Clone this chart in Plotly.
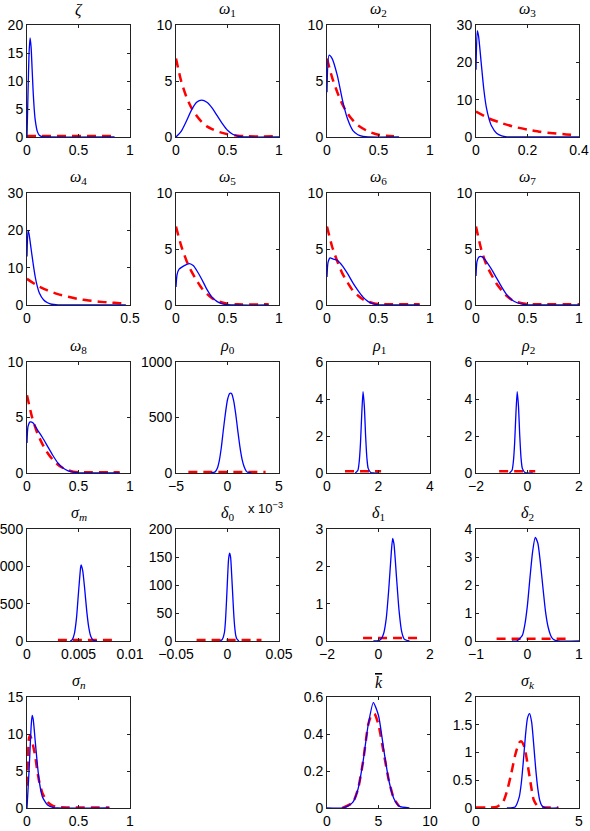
import plotly.graph_objects as go

# ---------------- data ----------------
# zeta
zeta_post_x = [0, 0.01, 0.02, 0.03, 0.04, 0.05, 0.06, 0.07, 0.08, 0.1, 0.12, 0.15, 0.2, 0.85]
zeta_post_y = [0, 8, 15, 17.7, 16, 12, 8, 5, 3, 1, 0.3, 0.05, 0, 0]
zeta_prior_x = [0, 0.87]
zeta_prior_y = [0.18, 0.18]
# omega1
w1_post_x = [0, 0.05, 0.1, 0.15, 0.2, 0.25, 0.3, 0.35, 0.4, 0.45, 0.5, 0.55, 0.6, 0.65, 0.7, 1]
w1_post_y = [0, 0.5, 1.4, 2.4, 3.1, 3.3, 3.1, 2.6, 1.9, 1.2, 0.6, 0.25, 0.08, 0.02, 0, 0]
w1_prior_x = [0, 0.05, 0.1, 0.15, 0.2, 0.25, 0.3, 0.35, 0.4, 0.5, 0.6, 0.7, 1]
w1_prior_y = [7, 5.0, 3.6, 2.6, 1.9, 1.35, 0.95, 0.7, 0.5, 0.25, 0.12, 0.06, 0.06]
# omega2
w2_post_x = [0, 0.02, 0.05, 0.1, 0.15, 0.2, 0.25, 0.3, 0.35, 0.4, 0.7]
w2_post_y = [4, 7.3, 7.0, 5.5, 3.3, 1.6, 0.6, 0.2, 0.05, 0, 0]
w2_prior_x = [0, 0.05, 0.1, 0.15, 0.2, 0.25, 0.3, 0.4, 0.5, 0.65]
w2_prior_y = [7, 5.3, 4.0, 2.9, 2.1, 1.5, 1.05, 0.5, 0.2, 0.06]
# omega3
w3_post_x = [0, 0.005, 0.01, 0.02, 0.03, 0.04, 0.05, 0.06, 0.08, 0.1, 0.12, 0.15, 0.4]
w3_post_y = [18, 28.5, 27, 20, 13, 8, 5, 3, 1, 0.3, 0.05, 0, 0]
w3_prior_x = [0, 0.05, 0.1, 0.15, 0.2, 0.25, 0.3, 0.35, 0.38]
w3_prior_y = [6.8, 5.0, 3.7, 2.7, 2.0, 1.4, 1.0, 0.7, 0.55]
# omega4
w4_post_x = [0, 0.005, 0.01, 0.02, 0.03, 0.04, 0.05, 0.06, 0.08, 0.1, 0.12, 0.15, 0.2, 0.48]
w4_post_y = [13, 20, 19, 15, 11, 7.5, 5, 3.2, 1.4, 0.6, 0.2, 0.05, 0, 0]
w4_prior_x = [0, 0.05, 0.1, 0.15, 0.2, 0.25, 0.3, 0.35, 0.4, 0.45, 0.48]
w4_prior_y = [7, 5.2, 3.9, 2.9, 2.2, 1.6, 1.2, 0.9, 0.65, 0.5, 0.4]
# omega5
w5_post_x = [0, 0.01, 0.03, 0.06, 0.1, 0.13, 0.17, 0.2, 0.25, 0.3, 0.35, 0.4, 0.45, 0.5, 0.6, 0.9]
w5_post_y = [1.6, 2.7, 3.2, 3.4, 3.6, 3.7, 3.5, 3.1, 2.3, 1.4, 0.7, 0.3, 0.1, 0.03, 0, 0]
w5_prior_x = [0, 0.05, 0.1, 0.15, 0.2, 0.25, 0.3, 0.35, 0.4, 0.5, 0.6, 0.9]
w5_prior_y = [7, 5.3, 4.0, 3.0, 2.2, 1.5, 1.0, 0.6, 0.35, 0.12, 0.06, 0.06]
# omega6
w6_post_x = [0, 0.01, 0.03, 0.06, 0.1, 0.15, 0.2, 0.25, 0.3, 0.35, 0.4, 0.45, 0.5, 0.6, 0.9]
w6_post_y = [2.5, 3.8, 4.2, 4.1, 4.0, 3.5, 2.8, 2.0, 1.3, 0.7, 0.3, 0.1, 0.02, 0, 0]
w6_prior_x = [0, 0.05, 0.1, 0.15, 0.2, 0.25, 0.3, 0.35, 0.4, 0.45, 0.5, 0.6, 0.9]
w6_prior_y = [7, 5.2, 3.9, 2.8, 2.0, 1.3, 0.85, 0.5, 0.3, 0.15, 0.08, 0.06, 0.06]
# omega7
w7_post_x = [0, 0.01, 0.03, 0.06, 0.1, 0.15, 0.2, 0.25, 0.3, 0.35, 0.4, 0.45, 0.5, 0.6, 1]
w7_post_y = [2.6, 3.9, 4.3, 4.3, 3.9, 3.2, 2.4, 1.6, 0.9, 0.45, 0.2, 0.07, 0.02, 0, 0]
w7_prior_x = [0, 0.05, 0.1, 0.15, 0.2, 0.25, 0.3, 0.35, 0.4, 0.5, 0.6, 1]
w7_prior_y = [7, 5.0, 3.6, 2.7, 1.9, 1.3, 0.8, 0.45, 0.25, 0.08, 0.06, 0.06]
# omega8
w8_post_x = [0, 0.01, 0.03, 0.06, 0.1, 0.15, 0.2, 0.25, 0.3, 0.35, 0.4, 0.45, 0.5, 0.6, 0.9]
w8_post_y = [2.7, 4.2, 4.6, 4.5, 3.9, 3.2, 2.4, 1.6, 0.9, 0.45, 0.2, 0.07, 0.02, 0, 0]
w8_prior_x = [0, 0.05, 0.1, 0.15, 0.2, 0.25, 0.3, 0.35, 0.4, 0.45, 0.5, 0.6, 0.9]
w8_prior_y = [7, 5.0, 3.6, 2.6, 1.8, 1.2, 0.75, 0.45, 0.25, 0.12, 0.07, 0.06, 0.06]
# rho0 (x in units of 1e-3)
r0_post_x = [-1.6, -1.2, -1.0, -0.8, -0.6, -0.4, -0.2, 0, 0.2, 0.3, 0.4, 0.6, 0.8, 1.0, 1.2, 1.4, 1.6, 1.8, 2.0, 2.3]
r0_post_y = [0, 10, 40, 110, 230, 390, 540, 660, 715, 720, 715, 650, 530, 380, 240, 130, 60, 20, 5, 0]
r0_prior_x = [-3.8, 3.7]
r0_prior_y = [8, 8]
# rho1
r1_post_x = [1.1, 1.2, 1.25, 1.3, 1.35, 1.4, 1.45, 1.5, 1.55, 1.6, 1.7, 1.8, 2.0]
r1_post_y = [0, 0.15, 0.6, 1.6, 3.2, 4.4, 3.6, 2.0, 0.8, 0.25, 0.03, 0, 0]
r1_prior_x = [0.7, 2.1]
r1_prior_y = [0.09, 0.09]
# rho2
r2_post_x = [-0.7, -0.6, -0.55, -0.5, -0.45, -0.4, -0.35, -0.3, -0.25, -0.2, -0.1, 0, 0.2]
r2_post_y = [0, 0.15, 0.6, 1.6, 3.2, 4.4, 3.6, 2.0, 0.8, 0.25, 0.03, 0, 0]
r2_prior_x = [-1.1, 0.3]
r2_prior_y = [0.09, 0.09]
# sigma_m
sm_post_x = [0.0042, 0.0044, 0.0046, 0.0048, 0.005, 0.0052, 0.00525, 0.0054, 0.0056, 0.0058, 0.006, 0.0062, 0.0064, 0.0066, 0.0068]
sm_post_y = [0, 20, 100, 300, 650, 980, 1020, 950, 700, 400, 180, 60, 15, 2, 0]
sm_prior_x = [0.003, 0.0088]
sm_prior_y = [12, 12]
# delta0
d0_post_x = [-0.007, -0.005, -0.003, -0.002, -0.001, 0, 0.001, 0.002, 0.003, 0.004, 0.005, 0.006, 0.007, 0.008, 0.009, 0.011]
d0_post_y = [0, 3, 15, 35, 70, 110, 145, 157, 150, 120, 85, 50, 25, 10, 4, 0]
d0_prior_x = [-0.03, 0.033]
d0_prior_y = [2, 2]
# delta1
d1_post_x = [-0.2, 0, 0.1, 0.2, 0.3, 0.4, 0.5, 0.55, 0.6, 0.7, 0.8, 0.9, 1.0, 1.2]
d1_post_y = [0, 0.01, 0.05, 0.2, 0.6, 1.4, 2.4, 2.75, 2.6, 1.7, 0.8, 0.25, 0.05, 0]
d1_prior_x = [-0.6, 1.6]
d1_prior_y = [0.08, 0.08]
# delta2
d2_post_x = [-0.3, -0.2, -0.1, -0.05, 0, 0.05, 0.1, 0.15, 0.2, 0.25, 0.3, 0.35, 0.4, 0.45, 0.5, 0.6, 1]
d2_post_y = [0, 0.01, 0.2, 0.6, 1.3, 2.3, 3.2, 3.7, 3.5, 2.8, 1.9, 1.05, 0.5, 0.2, 0.06, 0, 0]
d2_prior_x = [-0.6, 0.8]
d2_prior_y = [0.08, 0.08]
# sigma_n
sn_post_x = [0, 0.02, 0.04, 0.05, 0.06, 0.08, 0.1, 0.12, 0.15, 0.2, 0.25, 0.3, 0.8]
sn_post_y = [0, 5, 11, 12.5, 12, 9, 6, 3.5, 1.5, 0.4, 0.1, 0, 0]
sn_prior_x = [0, 0.01, 0.02, 0.03, 0.05, 0.08, 0.1, 0.12, 0.15, 0.2, 0.25, 0.3, 0.4, 0.8]
sn_prior_y = [3, 7, 9.5, 9.8, 9, 7, 5, 3.5, 2, 0.8, 0.3, 0.12, 0.08, 0.08]
# k bar
kb_post_x = [0, 1.5, 2, 2.5, 3, 3.5, 4, 4.5, 5, 5.5, 6, 6.5, 7, 8]
kb_post_y = [0, 0, 0.01, 0.03, 0.1, 0.25, 0.45, 0.57, 0.5, 0.32, 0.15, 0.05, 0.01, 0]
kb_prior_x = [1.5, 2.5, 3, 3.5, 4, 4.3, 4.6, 5, 5.5, 6, 6.5, 7]
kb_prior_y = [0, 0.03, 0.1, 0.25, 0.45, 0.5, 0.51, 0.45, 0.3, 0.15, 0.05, 0.01]
# sigma_k
sk_post_x = [1.5, 1.9, 2.1, 2.2, 2.3, 2.4, 2.5, 2.6, 2.7, 2.8, 2.9, 3.0, 3.1, 3.2, 3.4, 4]
sk_post_y = [0, 0.02, 0.2, 0.45, 0.85, 1.3, 1.62, 1.7, 1.55, 1.15, 0.7, 0.35, 0.13, 0.04, 0, 0]
sk_prior_x = [0, 0.5, 1, 1.3, 1.5, 1.7, 1.9, 2.1, 2.2, 2.35, 2.5, 2.65, 2.8, 3.0, 3.3, 4]
sk_prior_y = [0.01, 0.01, 0.02, 0.1, 0.3, 0.6, 0.95, 1.18, 1.2, 1.1, 0.8, 0.45, 0.15, 0.03, 0.01, 0.01]

# panel titles and axis ticks
titles = ["<i>ζ</i>", "<i>ω</i><sub>1</sub>", "<i>ω</i><sub>2</sub>", "<i>ω</i><sub>3</sub>",
          "<i>ω</i><sub>4</sub>", "<i>ω</i><sub>5</sub>", "<i>ω</i><sub>6</sub>", "<i>ω</i><sub>7</sub>",
          "<i>ω</i><sub>8</sub>", "<i>ρ</i><sub>0</sub>", "<i>ρ</i><sub>1</sub>", "<i>ρ</i><sub>2</sub>",
          "<i>σ</i><sub><i>m</i></sub>", "<i>δ</i><sub>0</sub>", "<i>δ</i><sub>1</sub>", "<i>δ</i><sub>2</sub>",
          "<i>σ</i><sub><i>n</i></sub>",
          "<span style='text-decoration:overline'><i>k</i></span>",
          "<i>σ</i><sub><i>k</i></sub>"]
xticks = [[0, 0.5, 1], [0, 0.5, 1], [0, 0.5, 1], [0, 0.2, 0.4],
          [0, 0.5], [0, 0.5, 1], [0, 0.5, 1], [0, 0.5, 1],
          [0, 0.5, 1], [-5, 0, 5], [0, 2, 4], [-2, 0, 2],
          [0, 0.005, 0.01], [-0.05, 0, 0.05], [-2, 0, 2], [-1, 0, 1],
          [0, 0.5, 1], [0, 5, 10], [0, 5]]
xticktext = [["0", "0.5", "1"], ["0", "0.5", "1"], ["0", "0.5", "1"], ["0", "0.2", "0.4"],
             ["0", "0.5"], ["0", "0.5", "1"], ["0", "0.5", "1"], ["0", "0.5", "1"],
             ["0", "0.5", "1"], ["−5", "0", "5"], ["0", "2", "4"], ["−2", "0", "2"],
             ["0", "0.005", "0.01"], ["−0.05", "0", "0.05"], ["−2", "0", "2"], ["−1", "0", "1"],
             ["0", "0.5", "1"], ["0", "5", "10"], ["0", "5"]]
yticks = [[0, 5, 10, 15, 20], [0, 5, 10], [0, 5, 10], [0, 10, 20, 30],
          [0, 10, 20, 30], [0, 5, 10], [0, 5, 10], [0, 5, 10],
          [0, 5, 10], [0, 500, 1000], [0, 2, 4, 6], [0, 2, 4, 6],
          [0, 500, 1000, 1500], [0, 50, 100, 150, 200], [0, 1, 2, 3], [0, 1, 2, 3, 4],
          [0, 5, 10, 15], [0, 0.2, 0.4, 0.6], [0, 0.5, 1, 1.5, 2]]

panels = [
    (zeta_post_x, zeta_post_y, zeta_prior_x, zeta_prior_y),
    (w1_post_x, w1_post_y, w1_prior_x, w1_prior_y),
    (w2_post_x, w2_post_y, w2_prior_x, w2_prior_y),
    (w3_post_x, w3_post_y, w3_prior_x, w3_prior_y),
    (w4_post_x, w4_post_y, w4_prior_x, w4_prior_y),
    (w5_post_x, w5_post_y, w5_prior_x, w5_prior_y),
    (w6_post_x, w6_post_y, w6_prior_x, w6_prior_y),
    (w7_post_x, w7_post_y, w7_prior_x, w7_prior_y),
    (w8_post_x, w8_post_y, w8_prior_x, w8_prior_y),
    (r0_post_x, r0_post_y, r0_prior_x, r0_prior_y),
    (r1_post_x, r1_post_y, r1_prior_x, r1_prior_y),
    (r2_post_x, r2_post_y, r2_prior_x, r2_prior_y),
    (sm_post_x, sm_post_y, sm_prior_x, sm_prior_y),
    (d0_post_x, d0_post_y, d0_prior_x, d0_prior_y),
    (d1_post_x, d1_post_y, d1_prior_x, d1_prior_y),
    (d2_post_x, d2_post_y, d2_prior_x, d2_prior_y),
    (sn_post_x, sn_post_y, sn_prior_x, sn_prior_y),
    (kb_post_x, kb_post_y, kb_prior_x, kb_prior_y),
    (sk_post_x, sk_post_y, sk_prior_x, sk_prior_y),
]

# ---------------- layout geometry ----------------
W, H = 590, 831
col_px = [(27, 130), (176, 279), (327, 430), (476, 579)]
row_px = [(25, 137), (193, 305), (362, 473), (529, 641), (697, 808)]
slots = [(r, c) for r in range(4) for c in range(4)] + [(4, 0), (4, 2), (4, 3)]

fig = go.Figure()
layout = dict(template="none", width=W, height=H, autosize=False, showlegend=False,
              margin=dict(l=0, r=0, t=0, b=0, pad=0, autoexpand=False),
              paper_bgcolor="white", plot_bgcolor="white",
              font=dict(family="Liberation Sans, Arial, sans-serif", size=14, color="black"))
annotations = []
axis_common = dict(showline=True, linecolor="#222222", linewidth=1, mirror="ticks",
                   ticks="inside", ticklen=3, tickwidth=1, tickcolor="#222222",
                   showgrid=False, zeroline=False, automargin=False,
                   tickfont=dict(size=14, color="black"))

for i, (slot, pdata) in enumerate(zip(slots, panels)):
    r, c = slot
    n = i + 1
    xs = "" if n == 1 else str(n)
    px_x, py_y, prx, pry = pdata
    xa, ya = "x" + xs, "y" + xs
    fig.add_trace(go.Scatter(x=prx, y=pry, mode="lines", xaxis=xa, yaxis=ya,
                             line=dict(color="#ff0000", width=2.5, dash="9px,6px",
                                       shape="spline", smoothing=0.6)))
    fig.add_trace(go.Scatter(x=px_x, y=py_y, mode="lines", xaxis=xa, yaxis=ya,
                             line=dict(color="#0000ff", width=1.3,
                                       shape="spline", smoothing=0.6)))
    x0, x1 = col_px[c]
    y0, y1 = row_px[r]
    xt = xticks[i]
    yt = yticks[i]
    layout["xaxis" + xs] = dict(axis_common, domain=[x0 / W, x1 / W], anchor=ya,
                                range=[xt[0], xt[-1]], tickvals=xt, ticktext=xticktext[i])
    layout["yaxis" + xs] = dict(axis_common, domain=[1 - y1 / H, 1 - y0 / H], anchor=xa,
                                range=[yt[0], yt[-1]], tickvals=yt)
    annotations.append(dict(text=titles[i], xref="paper", yref="paper",
                            x=(x0 + x1) / 2 / W, y=1 - y0 / H, xanchor="center", yanchor="bottom",
                            yshift=4, showarrow=False,
                            font=dict(family="Liberation Serif, DejaVu Serif, serif", size=16, color="black")))

annotations.append(dict(text="x 10<sup>−3</sup>", xref="paper", yref="paper",
                        x=246 / W, y=1 - 508 / H, xanchor="left", yanchor="middle",
                        showarrow=False, font=dict(family="Liberation Sans, Arial, sans-serif", size=13, color="black")))
layout["annotations"] = annotations
fig.update_layout(**layout)
fig.write_html("out.html")
